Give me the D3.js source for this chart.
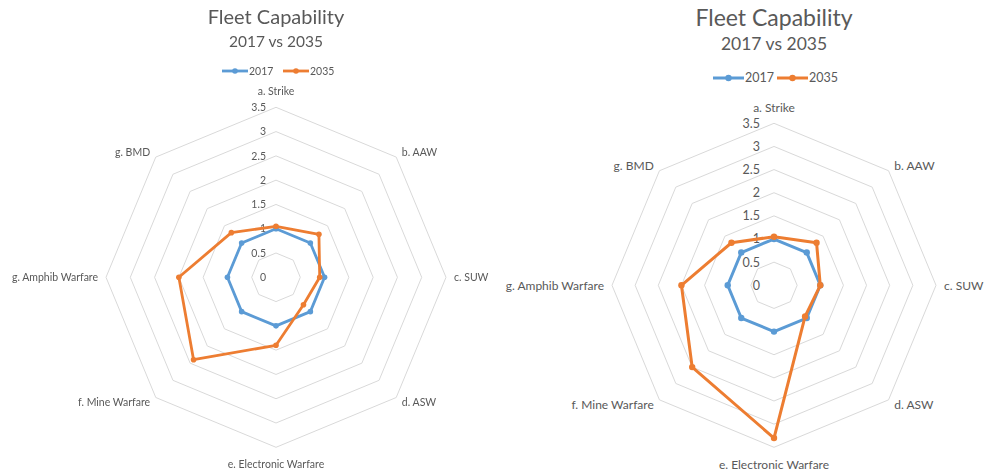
<!DOCTYPE html>
<html>
<head>
<meta charset="utf-8">
<script src="https://cdn.jsdelivr.net/npm/d3@7"></script>
<style>
  html, body { margin: 0; padding: 0; background: #fff; }
  svg { display: block; }
  text { font-family: Lato, "Open Sans", sans-serif; fill: #595959; }
</style>
</head>
<body>
<svg id="chart" width="985" height="475"></svg>
<script>
// Capability areas, clockwise from the top
const categories = [
  "a. Strike", "b. AAW", "c. SUW", "d. ASW",
  "e. Electronic Warfare", "f. Mine Warfare", "g. Amphib Warfare", "g. BMD"
];
const tickValues = [0, 0.5, 1, 1.5, 2, 2.5, 3, 3.5];
const tickLabels = ["0", "0.5", "1", "1.5", "2", "2.5", "3", "3.5"];
const seriesNames = ["2017", "2035"];
const seriesColors = ["#5B9BD5", "#ED7D31"];

// First panel
const panelA2017 = [1, 1, 1, 1, 1, 1, 1, 1];
const panelA2035 = [1.05, 1.25, 0.9, 0.8, 1.4, 2.4, 2.0, 1.3];
// Second panel
const panelB2017 = [1, 1, 1, 1, 1, 1, 1, 1];
const panelB2035 = [1.05, 1.3, 1.0, 0.95, 3.3, 2.5, 2.0, 1.3];

const titleText = "Fleet Capability";
const subtitleText = "2017 vs 2035";

const svg = d3.select("#chart");
const defs = svg.append("defs");
defs.append("filter").attr("id", "soft")
  .attr("x", "-5%").attr("y", "-5%").attr("width", "110%").attr("height", "110%")
  .append("feGaussianBlur").attr("stdDeviation", 0.45);

function drawRadar(opts, series) {
  const g = svg.append("g");
  if (opts.soft) g.attr("filter", "url(#soft)");

  const r = d3.scaleLinear().domain([0, 3.5]).range([0, opts.R]);
  const angle = d3.scaleLinear().domain([0, categories.length]).range([0, 2 * Math.PI]);
  const pt = (i, v) => [opts.cx + Math.sin(angle(i)) * r(v), opts.cy - Math.cos(angle(i)) * r(v)];

  // titles
  g.append("text").attr("x", opts.cx).attr("y", opts.titleY)
    .attr("text-anchor", "middle").attr("font-size", opts.titleSize).text(titleText);
  g.append("text").attr("x", opts.cx).attr("y", opts.subY)
    .attr("text-anchor", "middle").attr("font-size", opts.subSize).text(subtitleText);

  // octagon gridlines
  const ring = d3.line();
  g.append("g").selectAll("path").data(tickValues.slice(1)).join("path")
    .attr("d", t => ring(categories.map((c, i) => pt(i, t))) + "Z")
    .attr("fill", "none").attr("stroke", "#d9d9d9").attr("stroke-width", 1);

  // value axis labels
  g.append("g").selectAll("text").data(tickValues).join("text")
    .attr("x", opts.cx - opts.tickDx)
    .attr("y", t => opts.cy - r(t))
    .attr("dy", "0.35em")
    .attr("text-anchor", "end")
    .attr("font-size", opts.tickSize)
    .text((t, i) => tickLabels[i]);

  // category labels
  g.append("g").selectAll("text").data(categories).join("text")
    .attr("font-size", opts.catSize)
    .attr("dy", "0.35em")
    .each(function (c, i) {
      const a = angle(i), s = Math.sin(a), co = Math.cos(a);
      const [vx, vy] = pt(i, 3.5);
      let x = vx + s * 8, y = vy - co * 7;
      if (co > 0.9) y = vy - 16;
      if (co < -0.9) y = vy + 17;
      d3.select(this).attr("x", x).attr("y", y)
        .attr("text-anchor", s > 0.1 ? "start" : s < -0.1 ? "end" : "middle");
    })
    .text(c => c);

  // series
  const line = d3.lineRadial()
    .angle((d, i) => angle(i))
    .radius(d => r(d))
    .curve(d3.curveLinearClosed);
  series.forEach((vals, k) => {
    const sg = g.append("g").attr("transform", `translate(${opts.cx},${opts.cy})`);
    sg.append("path").attr("d", line(vals))
      .attr("fill", "none").attr("stroke", seriesColors[k])
      .attr("stroke-width", opts.lineW).attr("stroke-linejoin", "round");
    sg.selectAll("circle").data(vals).join("circle")
      .attr("cx", (d, i) => Math.sin(angle(i)) * r(d))
      .attr("cy", (d, i) => -Math.cos(angle(i)) * r(d))
      .attr("r", opts.dotR).attr("fill", seriesColors[k]);
  });

  // legend
  const lg = g.append("g");
  seriesNames.forEach((name, k) => {
    const x0 = opts.legendX[k];
    lg.append("line").attr("x1", x0).attr("x2", x0 + opts.legendLen)
      .attr("y1", opts.legendY).attr("y2", opts.legendY)
      .attr("stroke", seriesColors[k]).attr("stroke-width", opts.lineW);
    lg.append("circle").attr("cx", x0 + opts.legendLen / 2).attr("cy", opts.legendY)
      .attr("r", opts.dotR).attr("fill", seriesColors[k]);
    lg.append("text").attr("x", x0 + opts.legendLen + 1).attr("y", opts.legendY)
      .attr("dy", "0.35em").attr("font-size", opts.legendSize).text(name);
  });
}

drawRadar({
  cx: 276, cy: 277.3, R: 170, soft: true,
  titleY: 24, titleSize: 20, subY: 47, subSize: 15.5,
  tickDx: 10, tickSize: 10.5, catSize: 10.5,
  lineW: 2.8, dotR: 2.8,
  legendX: [222, 283], legendLen: 26, legendY: 71, legendSize: 10.5
}, [panelA2017, panelA2035]);

drawRadar({
  cx: 774, cy: 285.3, R: 162, soft: false,
  titleY: 26, titleSize: 23, subY: 50, subSize: 17.5,
  tickDx: 14, tickSize: 12.5, catSize: 12,
  lineW: 3, dotR: 3.2,
  legendX: [713, 777], legendLen: 31, legendY: 78, legendSize: 12.5
}, [panelB2017, panelB2035]);
</script>
</body>
</html>
